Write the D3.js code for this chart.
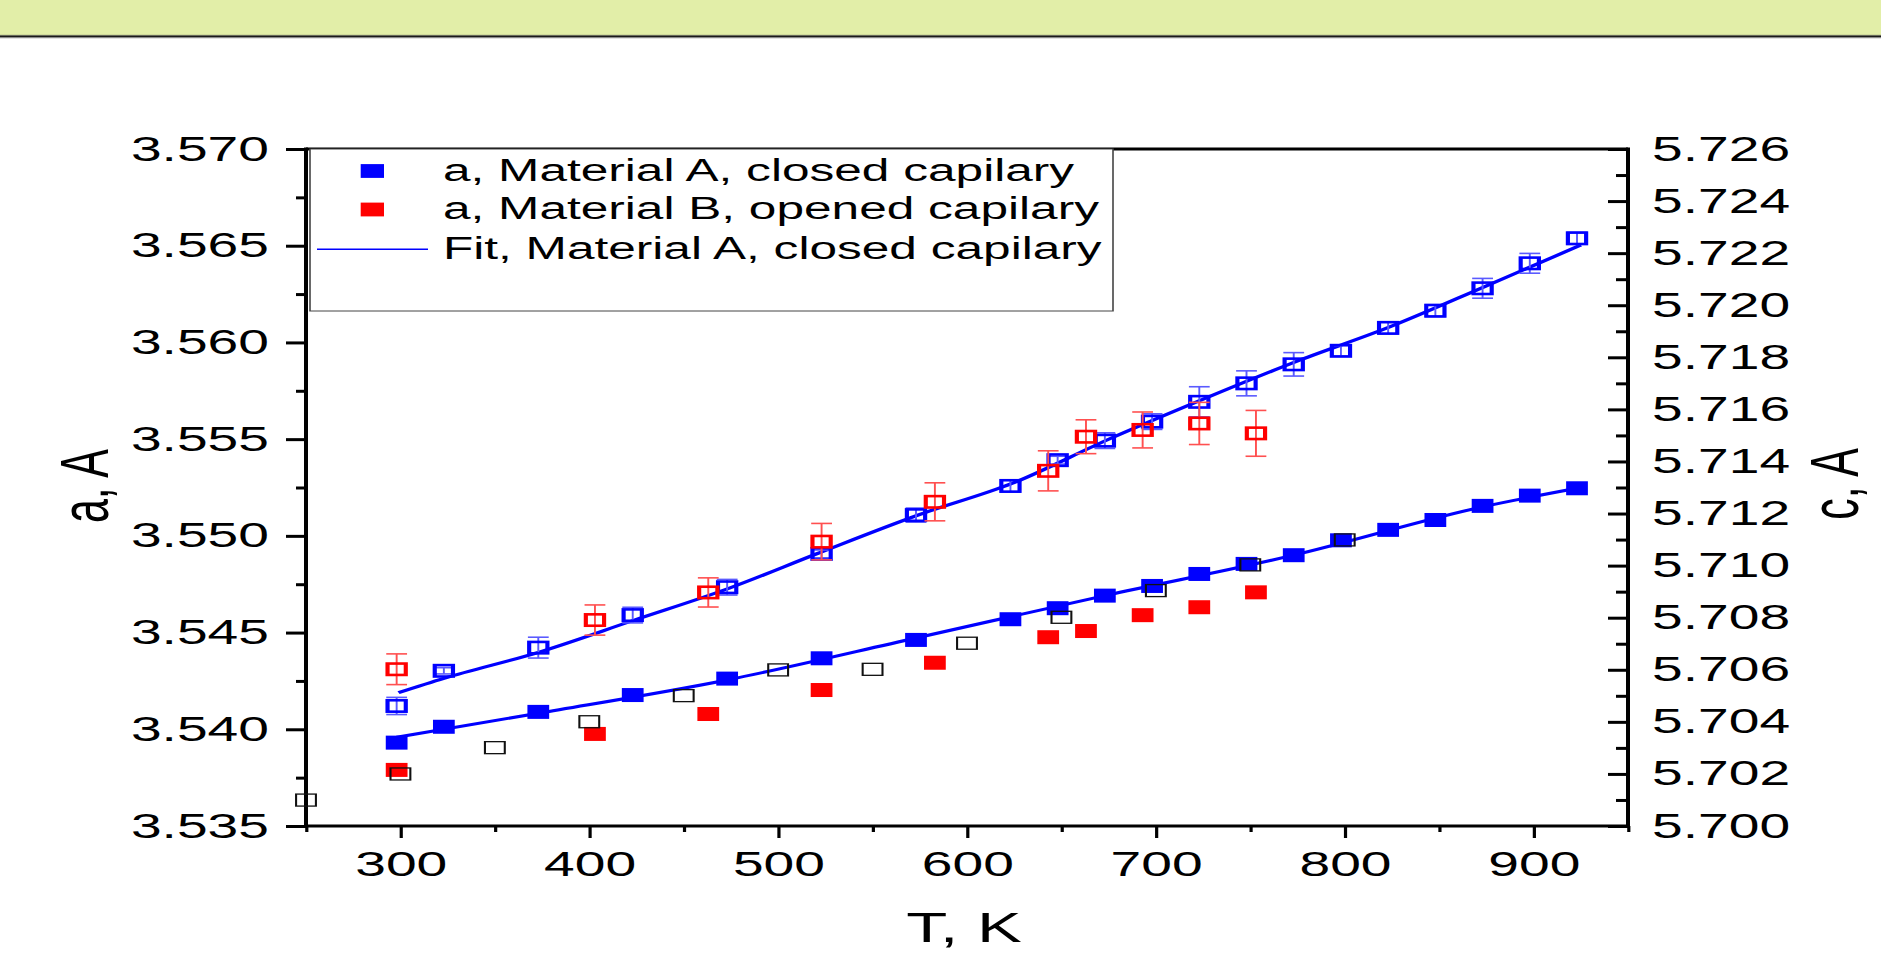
<!DOCTYPE html>
<html>
<head>
<meta charset="utf-8">
<script src="https://cdn.jsdelivr.net/npm/d3@7"></script>
<style>
  html, body { margin: 0; padding: 0; background: #fff; }
  svg { display: block; }
  text { font-family: "Liberation Sans", Arial, sans-serif; fill: #000; }
</style>
</head>
<body>
<div id="chart"></div>
<script>
// Lattice parameters vs temperature
// left axis: a, A  /  right axis: c, A

// filled blue: a, Material A, closed capilary
const tA = [298, 323, 373, 423, 473, 523, 573, 623, 648, 673, 698, 723, 748, 773, 798, 823, 848, 873, 898, 923];
const aA = [3.53931, 3.54013, 3.54090, 3.54177, 3.54262, 3.54367, 3.54462, 3.54569, 3.54626, 3.54691,
            3.54741, 3.54803, 3.54855, 3.54900, 3.54977, 3.55031, 3.55082, 3.55155, 3.55208, 3.55246];
// open blue: c, Material A, closed capilary (right axis)
const cA = [5.70461, 5.70596, 5.70685, 5.70810, 5.70917, 5.71045, 5.71194, 5.71306, 5.71405, 5.71480,
            5.71553, 5.71629, 5.71700, 5.71773, 5.71825, 5.71913, 5.71979, 5.72065, 5.72161, 5.72257];
const cAerr = [0.00033, 0.00012, 0.00040, 0.00030, 0.00030, 0.00015, 0.00027, 0.00023, 0.00015, 0.00030,
               0.00030, 0.00058, 0.00048, 0.00045, 0.00020, 0.00023, 0.00023, 0.00038, 0.00038, 0.00023];

// red: Material B, opened capilary
const tB = [298, 403, 463, 523, 583, 643, 663, 693, 723, 753];
const aB = [3.53790, 3.53976, 3.54079, 3.54203, 3.54344, 3.54476, 3.54508, 3.54590, 3.54631, 3.54708];
const cB = [5.70602, 5.70791, 5.70897, 5.71092, 5.71245, 5.71364, 5.71495, 5.71521, 5.71546, 5.71508];
const cBerr = [0.00059, 0.00058, 0.00056, 0.00070, 0.00073, 0.00077, 0.00065, 0.00069, 0.00081, 0.00088];

// black open squares (reference a)
const tRef = [250, 300, 350, 400, 450, 500, 550, 600, 650, 700, 750, 800];
const aRef = [3.53634, 3.53769, 3.53905, 3.54039, 3.54174, 3.54307, 3.54310, 3.54445, 3.54579, 3.54717, 3.54850, 3.54979];

// fits, Material A closed capilary
const tFitA = [298, 373, 473, 573, 673, 773, 873, 923];
const aFitA = [3.53959, 3.54083, 3.54255, 3.54472, 3.54691, 3.54900, 3.55150, 3.55246];
const tFitC = [299, 323, 374, 424, 474, 521, 574, 624, 674, 724, 774, 824, 874, 925];
const cFitC = [5.70512, 5.70567, 5.70669, 5.70791, 5.70913, 5.71047, 5.71194, 5.71316, 5.71482,
               5.71636, 5.71783, 5.71917, 5.72071, 5.72231];

const xTicks = [300, 400, 500, 600, 700, 800, 900];
const xMinor = [250, 350, 450, 550, 650, 750, 850, 950];
const yLTicks = [3.535, 3.540, 3.545, 3.550, 3.555, 3.560, 3.565, 3.570];
const yLMinor = [3.5375, 3.5425, 3.5475, 3.5525, 3.5575, 3.5625, 3.5675];
const yRTicks = [5.700, 5.702, 5.704, 5.706, 5.708, 5.710, 5.712, 5.714, 5.716, 5.718, 5.720, 5.722, 5.724, 5.726];
const yRMinor = [5.701, 5.703, 5.705, 5.707, 5.709, 5.711, 5.713, 5.715, 5.717, 5.719, 5.721, 5.723, 5.725];

const legendItems = ["a, Material A, closed capilary", "a, Material B, opened capilary", "Fit, Material A, closed capilary"];

// the original picture is stretched horizontally, so draw in a narrower box and stretch it
const s = 1.6;
const W = 1881 / s, H = 964;

const svg = d3.select("#chart").append("svg")
    .attr("width", 1881).attr("height", 964)
    .attr("viewBox", `0 0 ${W} ${H}`)
    .attr("preserveAspectRatio", "none");

// header band
svg.append("rect").attr("x", 0).attr("y", 0).attr("width", W).attr("height", 35).attr("fill", "#e2eea8");
svg.append("line").attr("x1", 0).attr("x2", W).attr("y1", 35.2).attr("y2", 35.2).attr("stroke", "#9aa27a").attr("stroke-width", 1);
svg.append("line").attr("x1", 0).attr("x2", W).attr("y1", 36.5).attr("y2", 36.5).attr("stroke", "#1a1a1a").attr("stroke-width", 1.8);
svg.append("line").attr("x1", 0).attr("x2", W).attr("y1", 37.8).attr("y2", 37.8).attr("stroke", "#8a8a8a").attr("stroke-width", 1);

const x = d3.scaleLinear().domain([250, 950]).range([306 / s, 1628 / s]);
const yL = d3.scaleLinear().domain([3.535, 3.570]).range([826, 149]);
const yR = d3.scaleLinear().domain([5.700, 5.726]).range([826, 149]);

const x0 = x(250), x1 = x(950), yTop = yL(3.570), yBot = yL(3.535);

// axes
const gxMinor = svg.append("g").attr("transform", `translate(0,${yBot})`)
    .call(d3.axisBottom(x).tickValues(xMinor).tickSize(6).tickFormat(""));
const gx = svg.append("g").attr("transform", `translate(0,${yBot})`)
    .call(d3.axisBottom(x).tickValues(xTicks).tickSize(12).tickPadding(14).tickFormat(d3.format("d")));
const gyMinor = svg.append("g").attr("transform", `translate(${x0},0)`)
    .call(d3.axisLeft(yL).tickValues(yLMinor).tickSize(10 / s).tickFormat(""));
const gy = svg.append("g").attr("transform", `translate(${x0},0)`)
    .call(d3.axisLeft(yL).tickValues(yLTicks).tickSize(20 / s).tickPadding(17 / s).tickFormat(d3.format(".3f")));
const gyRMinor = svg.append("g").attr("transform", `translate(${x1},0)`)
    .call(d3.axisRight(yR).tickValues(yRMinor).tickSize(-12 / s).tickFormat(""));
const gyR = svg.append("g").attr("transform", `translate(${x1},0)`)
    .call(d3.axisRight(yR).tickValues(yRTicks).tickSize(-20 / s).tickPadding(24 / s).tickFormat(d3.format(".3f")));

[gxMinor, gx, gyMinor, gy, gyRMinor, gyR].forEach(g => {
    g.select(".domain").remove();
    g.selectAll("text").attr("font-size", 34.5).attr("font-family", "Liberation Sans, Arial, sans-serif");
});
[gxMinor, gx].forEach(g => g.selectAll(".tick line").attr("stroke-width", 2));
[gyMinor, gy, gyRMinor, gyR].forEach(g => g.selectAll(".tick line").attr("stroke-width", 3));

// frame
svg.append("line").attr("x1", x0).attr("x2", x1).attr("y1", yTop).attr("y2", yTop).attr("stroke", "#000").attr("stroke-width", 3);
svg.append("line").attr("x1", x0 - 1).attr("x2", x1 + 1).attr("y1", yBot).attr("y2", yBot).attr("stroke", "#000").attr("stroke-width", 3);
svg.append("line").attr("x1", x0).attr("x2", x0).attr("y1", yTop - 1.5).attr("y2", yBot + 1.5).attr("stroke", "#000").attr("stroke-width", 2.5);
svg.append("line").attr("x1", x1).attr("x2", x1).attr("y1", yTop - 1.5).attr("y2", yBot + 1.5).attr("stroke", "#000").attr("stroke-width", 2.5);

// axis titles
svg.append("text").attr("x", 964 / s).attr("y", 942).attr("text-anchor", "middle")
    .attr("font-size", 42).text("T, K");
svg.append("text").attr("transform", `translate(${108 / s},486) rotate(-90)`).attr("text-anchor", "middle")
    .attr("font-size", 43).text("a, A");
svg.append("text").attr("transform", `translate(${1858 / s},484) rotate(-90)`).attr("text-anchor", "middle")
    .attr("font-size", 43).text("c, A");

// legend box
const legend = svg.append("g");
legend.append("rect").attr("x", 310 / s).attr("y", yTop).attr("width", (1113 - 310) / s).attr("height", 311 - yTop)
    .attr("fill", "#fff").attr("stroke", "#444").attr("stroke-width", 1);

// fit lines
const fitLine = d3.line().curve(d3.curveMonotoneX);
svg.append("path")
    .attr("d", fitLine(tFitA.map((t, i) => [x(t), yL(aFitA[i])])))
    .attr("fill", "none").attr("stroke", "#0000ff").attr("stroke-width", 3);
svg.append("path")
    .attr("d", fitLine(tFitC.map((t, i) => [x(t), yR(cFitC[i])])))
    .attr("fill", "none").attr("stroke", "#0000ff").attr("stroke-width", 3);

// error bars
function errorBars(ts, vs, es, color) {
    const g = svg.append("g").attr("stroke", color).attr("stroke-width", 1.6).attr("fill", "none");
    const cap = 13;
    ts.forEach((t, i) => {
        const cx = x(t), lo = yR(vs[i] - es[i]), hi = yR(vs[i] + es[i]);
        g.append("line").attr("x1", cx).attr("x2", cx).attr("y1", lo).attr("y2", hi).attr("stroke-width", 1.2);
        g.append("line").attr("x1", cx - cap / 2).attr("x2", cx + cap / 2).attr("y1", lo).attr("y2", lo);
        g.append("line").attr("x1", cx - cap / 2).attr("x2", cx + cap / 2).attr("y1", hi).attr("y2", hi);
    });
}

function filled(ts, vs, scale, color) {
    svg.append("g").selectAll("rect").data(ts).enter().append("rect")
        .attr("x", d => x(d) - 6.8)
        .attr("y", (d, i) => scale(vs[i]) - 7)
        .attr("width", 13.6).attr("height", 14)
        .attr("fill", color);
}

function open(ts, vs, scale, color, w, h, sw) {
    svg.append("g").selectAll("rect").data(ts).enter().append("rect")
        .attr("x", d => x(d) - w / 2)
        .attr("y", (d, i) => scale(vs[i]) - h / 2)
        .attr("width", w).attr("height", h)
        .attr("fill", "none").attr("stroke", color).attr("stroke-width", sw);
}

filled(tA, aA, yL, "#0000ff");
filled(tB, aB, yL, "#ff0000");
errorBars(tA, cA, cAerr, "#5a5aff");
open(tA, cA, yR, "#0000ff", 11.4, 11.4, 2.6);
errorBars(tB, cB, cBerr, "#ff5050");
open(tB, cB, yR, "#ff0000", 11.4, 11.4, 2.6);
open(tRef, aRef, yL, "#111", 12.4, 12, 1.3);

// legend entries
const legY = [171, 209.5, 249.3];
legend.append("rect").attr("x", 360.7 / s).attr("y", legY[0] - 6.9).attr("width", 23.3 / s).attr("height", 13.8).attr("fill", "#0000ff");
legend.append("rect").attr("x", 360.7 / s).attr("y", legY[1] - 6.9).attr("width", 23.3 / s).attr("height", 13.8).attr("fill", "#ff0000");
legend.append("line").attr("x1", 317 / s).attr("x2", 428 / s).attr("y1", legY[2]).attr("y2", legY[2])
    .attr("stroke", "#0000ff").attr("stroke-width", 1.6);
legend.selectAll("text.leg").data(legendItems).enter().append("text")
    .attr("class", "leg")
    .attr("x", 443 / s)
    .attr("y", (d, i) => [181, 219, 259][i])
    .attr("font-size", 31)
    .text(d => d);
</script>
</body>
</html>
